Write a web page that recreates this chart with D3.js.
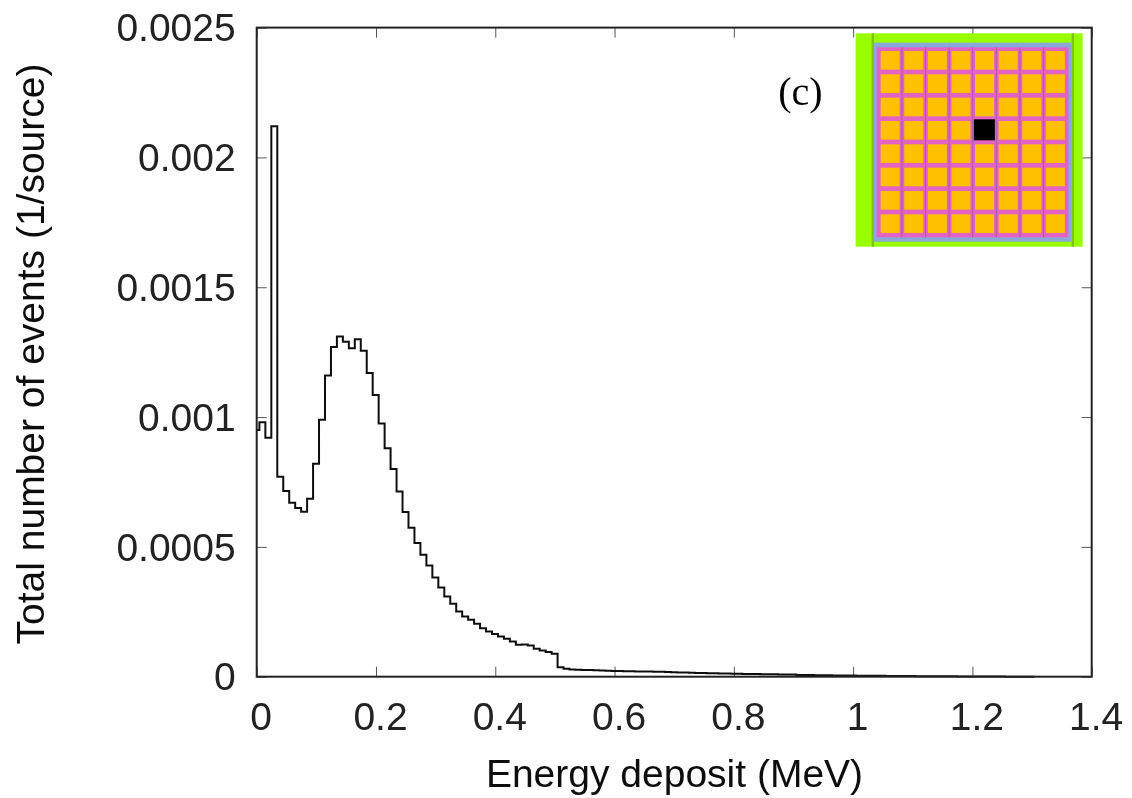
<!DOCTYPE html>
<html><head><meta charset="utf-8">
<script src="https://cdn.jsdelivr.net/npm/d3@7/dist/d3.min.js"></script>
<style>
html,body{margin:0;padding:0;background:#fff;}
svg{display:block;}
text{font-family:"Liberation Sans",Arial,sans-serif;fill:#222;}
</style></head><body>
<svg id="c" width="1132" height="798"></svg>
<script>
const xTickValues=[0,0.2,0.4,0.6,0.8,1,1.2,1.4];
const xTickLabels=["0","0.2","0.4","0.6","0.8","1","1.2","1.4"];
const yTickValues=[0,0.0005,0.001,0.0015,0.002,0.0025];
const yTickLabels=["0","0.0005","0.001","0.0015","0.002","0.0025"];
const firstBinValue=0.00095;
const binOrigin=0.0045;
const binWidth=0.01;
const counts=[
0.00098,0.00092,0.00212,0.00077,0.000715,0.00067,0.00065,0.000635,0.000685,0.00082,
0.00099,0.00116,0.00127,0.00131,0.00129,0.001265,0.0013,0.001255,0.00117,0.001085,
0.000975,0.00088,0.0008,0.000713,0.000634,0.000574,0.000515,0.00047,0.000428,0.000382,
0.000344,0.000309,0.000281,0.000251,0.000232,0.000219,0.000204,0.000187,0.000174,0.000164,
0.000155,0.000146,0.000136,0.000123,0.000124,0.00012,0.000108,0.000101,0.000095,0.000088,
0.000036,0.000031,0.000028,0.000027,0.000026,0.000026,0.000025,0.000024,0.000023,0.000022,
0.000022,0.000021,0.000021,0.00002,0.00002,0.00002,0.000019,0.000019,0.000018,0.000017,
0.000016,0.000016,0.000015,0.000014,0.000014,0.000013,0.000013,0.000012,0.000012,0.000011,
0.000011,0.00001,0.00001,0.00001,0.000009,0.000009,0.000009,0.000008,0.000008,0.000008,
0.000007,0.000007,0.000007,0.000006,0.000006,0.000006,0.000005,0.000005,0.000005,0.000005,
0.000004,0.000004,0.000004,0.000004,0.000004,0.000003,0.000003,0.000003,0.000003,0.000003,
0.000002,0.000002,0.000002,0.000002,0.000002,0.000002,0.000002,0.000001,0.000001,0.000001,
0.000001,0.000001,0.000001,0.000001,0.000001,0,0,0,0,0
];
const insetRows=d3.range(8), insetCols=d3.range(8);
const insetBlack={col:4,row:3};

const svg=d3.select("#c");
const defs=svg.append("defs");
defs.append("filter").attr("id","soft").attr("filterUnits","userSpaceOnUse")
  .attr("x",0).attr("y",0).attr("width",1132).attr("height",798)
  .append("feGaussianBlur").attr("stdDeviation",0.7);
const root=svg.append("g").attr("filter","url(#soft)");

const x=d3.scaleLinear().domain([0,1.4]).range([256.7,1091.7]);
const y=d3.scaleLinear().domain([0,0.0025]).range([676.7,27.6]);

const tickLen=10;
const fs=39;
// bottom
root.append("g").attr("transform",`translate(0,${y(0)})`)
 .call(g=>{g.call(d3.axisBottom(x).tickValues(xTickValues).tickSizeInner(-tickLen).tickSizeOuter(0).tickPadding(0).tickFormat((d,i)=>xTickLabels[i]));
   g.select(".domain").remove();
   g.selectAll(".tick line").attr("stroke","#555");
   g.selectAll(".tick text").attr("font-size",fs).attr("dy",null).attr("y",53).attr("x",4).attr("fill","#111").attr("font-family","Liberation Sans");});
// top
root.append("g").attr("transform",`translate(0,${y(0.0025)})`)
 .call(g=>{g.call(d3.axisTop(x).tickValues(xTickValues).tickSizeInner(-tickLen).tickSizeOuter(0).tickFormat(""));
   g.select(".domain").remove();g.selectAll(".tick line").attr("stroke","#555");});
// left
root.append("g").attr("transform",`translate(${x(0)},0)`)
 .call(g=>{g.call(d3.axisLeft(y).tickValues(yTickValues).tickSizeInner(-tickLen).tickSizeOuter(0).tickPadding(0).tickFormat((d,i)=>yTickLabels[i]));
   g.select(".domain").remove();g.selectAll(".tick line").attr("stroke","#555");
   g.selectAll(".tick text").attr("font-size",fs).attr("x",-21).attr("dy","0.34em").attr("fill","#111").attr("font-family","Liberation Sans");});
// right
root.append("g").attr("transform",`translate(${x(1.4)},0)`)
 .call(g=>{g.call(d3.axisRight(y).tickValues(yTickValues).tickSizeInner(-tickLen).tickSizeOuter(0).tickFormat(""));
   g.select(".domain").remove();g.selectAll(".tick line").attr("stroke","#555");});

// histogram
const pts=[[0,firstBinValue]].concat(counts.map((v,i)=>[binOrigin+i*binWidth,v]));
pts.push([binOrigin+counts.length*binWidth,counts[counts.length-1]]);
const line=d3.line().x(d=>x(d[0])).y(d=>y(d[1])).curve(d3.curveStepAfter);
root.append("path").datum(pts).attr("d",line).attr("fill","none").attr("stroke","#111").attr("stroke-width",2);

// frame
root.append("rect").attr("x",x(0)).attr("y",y(0.0025)).attr("width",x(1.4)-x(0)).attr("height",y(0)-y(0.0025))
 .attr("fill","none").attr("stroke","#222").attr("stroke-width",2);

// axis titles
root.append("text").attr("x",674.5).attr("y",787).attr("text-anchor","middle").attr("font-size",fs).style("fill","#111").text("Energy deposit (MeV)");
root.append("text").attr("transform","translate(44,354) rotate(-90)").attr("text-anchor","middle").attr("font-size",fs).style("fill","#111").text("Total number of events (1/source)");

// inset
const inset=svg.append("g");
const px=zx=>770+zx/3, py=zy=>20+zy/3;
inset.append("rect").attr("x",px(257)).attr("y",py(40)).attr("width",(938-257)/3).attr("height",(680-40)/3).attr("fill","#99ff00");
inset.selectAll("rect.strip").data([305,905]).join("rect").attr("class","strip")
  .attr("x",d=>px(d)).attr("y",py(40)).attr("width",2.4).attr("height",640/3).attr("fill","#7cc40c");
inset.append("rect").attr("x",px(311)).attr("y",py(68)).attr("width",594/3).attr("height",597/3).attr("fill","#8aa8dc");
inset.append("rect").attr("x",px(320)).attr("y",py(82)).attr("width",575/3).attr("height",570/3).attr("fill","#e463c2");
inset.selectAll("rect.gridv").data(insetCols.slice(1)).join("rect").attr("class","gridv")
  .attr("x",d=>px(332+d*70.8-7)-0.5).attr("y",py(82)).attr("width",1).attr("height",570/3).attr("fill","#a85aa8");
const cells=insetRows.flatMap(r=>insetCols.map(c=>({r,c})));
inset.selectAll("rect.cell").data(cells).join("rect").attr("class","cell")
  .attr("x",d=>px(332+d.c*70.8)).attr("y",d=>py(93+d.r*70))
  .attr("width",56/3+0.3).attr("height",55/3+0.3)
  .attr("fill",d=>(d.c===insetBlack.col&&d.r===insetBlack.row)?"#000":"#ffc000");
inset.selectAll("rect.black").data([insetBlack]).join("rect").attr("class","black")
  .attr("x",d=>px(332+d.col*70.8)-1.2).attr("y",d=>py(93+d.row*70)-1.7).attr("width",21).attr("height",21).attr("fill","#000");
inset.attr("filter","url(#soft)");
svg.append("text").attr("x",800.5).attr("y",105).attr("text-anchor","middle")
  .style("font-family","'Liberation Serif',serif").style("fill","#000").attr("font-size",40).text("(c)");
</script>
</body></html>
